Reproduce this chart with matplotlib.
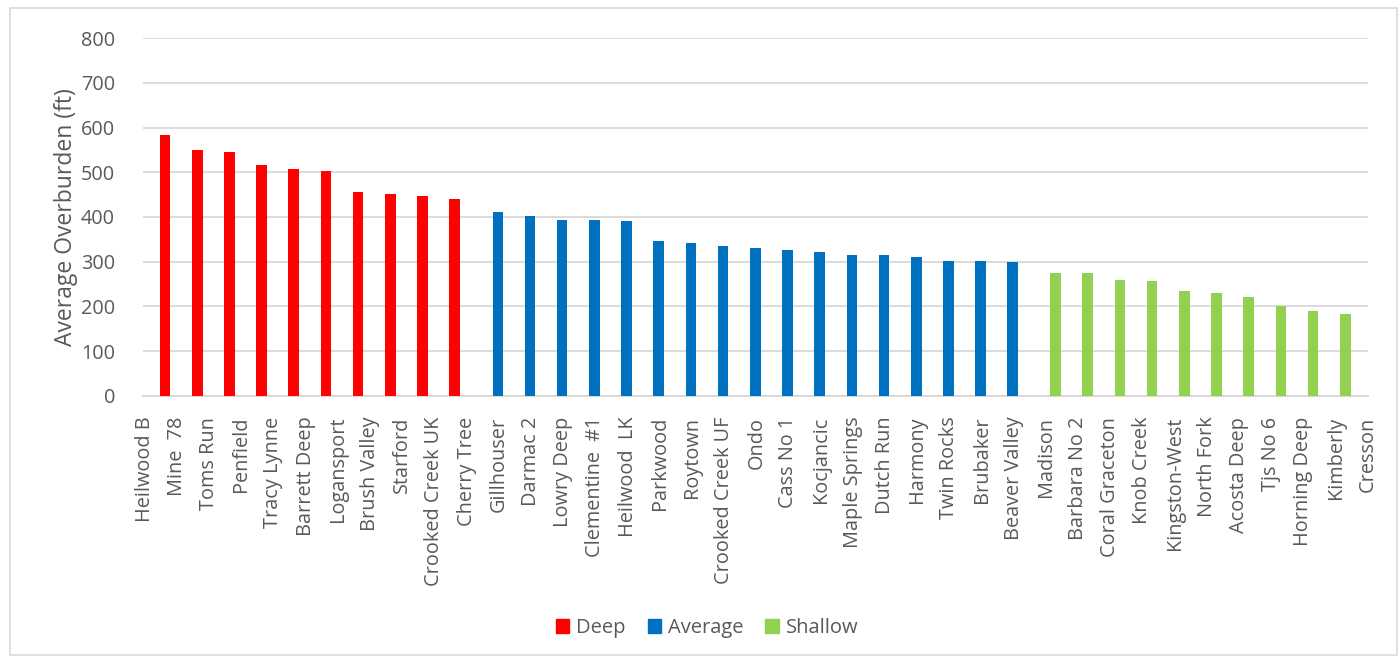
import matplotlib.pyplot as plt
import numpy as np
from matplotlib.patches import Patch, Rectangle

# Nombres de las minas en el orden del eje
categorias = ["Heilwood B", "Mine  78", "Toms Run", "Penfield", "Tracy Lynne",
              "Barrett Deep", "Logansport", "Brush Valley", "Starford",
              "Crooked Creek UK", "Cherry Tree", "Gillhouser", "Darmac 2",
              "Lowry Deep", "Clementine  #1", "Heilwood  LK", "Parkwood",
              "Roytown", "Crooked Creek UF", "Ondo", "Cass No 1", "Kocjancic",
              "Maple Springs", "Dutch Run", "Harmony", "Twin Rocks", "Brubaker",
              "Beaver Valley", "Madison", "Barbara No 2", "Coral Graceton",
              "Knob Creek", "Kingston-West", "North Fork", "Acosta Deep",
              "Tjs No 6", "Horning Deep", "Kimberly", "Cresson"]

# Valores de cada serie (ft)
deep = [583, 549, 546, 516, 507, 502, 456, 451, 447, 440]
average = [410, 402, 394, 394, 392, 346, 342, 336, 330, 326, 321, 315, 314,
           311, 302, 302, 299]
shallow = [275, 275, 260, 256, 235, 230, 220, 200, 190, 182]

# Primera mina de cada grupo
inicio_deep = "Heilwood B"
inicio_average = "Gillhouser"
inicio_shallow = "Madison"

colores = {"Deep": "#FF0000", "Average": "#0070C0", "Shallow": "#92D050"}
gris = "#595959"
plt.rcParams['font.family'] = ['Open Sans', 'DejaVu Sans']

fig = plt.figure(figsize=(14, 6.62), dpi=100)
ax = fig.add_axes([0.102, 0.402, 0.875, 0.5405])

ancho = 0.33
series = [("Deep", deep, inicio_deep, 0.63),
          ("Average", average, inicio_average, -0.03),
          ("Shallow", shallow, inicio_shallow, 0.30)]
for nombre, valores, inicio, desplaz in series:
    i0 = categorias.index(inicio)
    x = np.arange(i0, i0 + len(valores)) + desplaz
    ax.bar(x, valores, width=ancho, color=colores[nombre], zorder=3)

ax.set_ylim(0, 800)
ax.set_xlim(-0.06, len(categorias) - 1)
ax.set_yticks(np.arange(0, 801, 100))
ax.grid(axis="y", color="#d9d9d9", linewidth=1.3, zorder=0)
ax.set_xticks(np.arange(len(categorias)))
ax.set_xticklabels(categorias, rotation=90, fontsize=14.3, color=gris)
ax.tick_params(axis="x", length=0, pad=15)
ax.tick_params(axis="y", length=0, pad=20, labelsize=14.3, labelcolor=gris)
for lado in ["top", "right", "left"]:
    ax.spines[lado].set_visible(False)
ax.spines["bottom"].set_color("#d9d9d9")
ax.spines["bottom"].set_linewidth(1.5)
ax.set_ylabel("Average Overburden (ft)", fontsize=16.5, color=gris, labelpad=2)

manejadores = [Patch(color=colores[n]) for n in ["Deep", "Average", "Shallow"]]
fig.legend(manejadores, ["Deep", "Average", "Shallow"], loc="center",
           bbox_to_anchor=(0.505, 0.051), ncol=3, frameon=False, fontsize=14.5,
           handlelength=0.65, handleheight=0.65, handletextpad=0.35,
           columnspacing=1.1, labelcolor=gris)

# Marco exterior del grafico
fig.patches.append(Rectangle((10 / 1400, 7 / 662), 1387 / 1400, 647 / 662,
                             transform=fig.transFigure, fill=False,
                             edgecolor="#d9d9d9", linewidth=1.2))

fig.savefig("out.png", dpi=100, facecolor="white")
